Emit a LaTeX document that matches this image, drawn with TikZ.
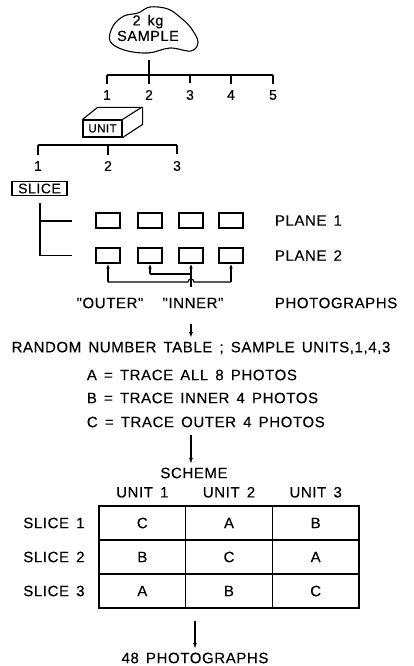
\documentclass[tikz,border=0pt]{standalone}
\usepackage{fontspec}
\newfontfamily\lettering{Liberation Sans}[LetterSpace=4,WordSpace=1.5,FakeBold=0.3]
\usetikzlibrary{arrows.meta,positioning,calc}

\begin{document}
\begin{tikzpicture}[
  x=1pt,y=-1pt,
  font=\lettering\fontsize{15}{17}\selectfont,
  line width=1.1pt,
  arrow/.style={-{Latex[length=6pt,width=4pt]},line width=1.1pt},
  uparrow/.style={-{Latex[length=5pt,width=3.5pt]},line width=1.1pt},
  num/.style={font=\lettering\fontsize{14}{16}\selectfont,inner sep=2pt},
  photo/.style={draw,minimum width=24pt,minimum height=15pt,inner sep=0pt},
  cell/.style={draw,minimum width=86.67pt,minimum height=34pt,inner sep=0pt},
  node distance=10pt
]
\useasboundingbox (0,0) rectangle (413,666);

% sample and its five units
\node[align=center,inner sep=0pt,font=\lettering\fontsize{14.5}{15.5}\selectfont] (sample) at (148,28) {2 kg\\SAMPLE};
\draw plot[smooth cycle,tension=0.6] coordinates {(110,41) (113,26) (124,16) (138,13) (150,7) (168,9) (181,18) (191,28) (198,42) (191,51) (170,48) (148,53) (124,50)};
\coordinate (drop) at (149,60);
\foreach \n/\x in {1/107,2/149,3/190,4/231,5/273} {
  \coordinate (t\n) at (\x,75);
  \node[num] (u\n) at (\x,95) {\n};
  \draw (t\n) -- ([yshift=4pt]u\n.north);
}
\draw (drop) -- (t2);
\draw (t1) -- (t5);

% unit block
\node[draw,font=\lettering\fontsize{11.5}{13}\selectfont,minimum width=39pt,minimum height=17pt,inner sep=0pt] (unit) at (102.5,128.5) {UNIT};
\draw (unit.north west) -- ++(15,-12) -- ++(44,0) -- (unit.north east);
\draw (unit.north east) ++(20,-12) -- ++(0,17) -- (unit.south east);

% three slices
\foreach \n/\x in {1/38,2/108,3/177} {
  \coordinate (s\n) at (\x,145);
  \node[num] (v\n) at (\x,166) {\n};
  \draw (s\n) -- ([yshift=4pt]v\n.north);
}
\draw (s1) -- (s3);
\node[draw,font=\lettering\fontsize{14}{15}\selectfont,minimum width=55pt,minimum height=14pt,inner sep=1pt] (slice) at (39.5,188.5) {SLICE};

% two planes of four photographs
\coordinate (stem) at (40,203);
\coordinate (br1) at (40,221);
\coordinate (br2) at (40,255.5);
\draw (stem) -- (br2) -- ++(32,0);
\draw (br1) -- ++(32,0);
\foreach \p/\y in {1/220.5,2/255.5} {
  \foreach \c/\x in {a/108,b/150,c/191,d/231}
    \node[photo] (p\p\c) at (\x,\y) {};
  \node[anchor=west] (plane\p) at (271,\y) {PLANE \p};
}

% outer and inner photographs
\coordinate (outer) at (0,282);
\coordinate (inner) at (0,274);
\draw[uparrow] (p2a.south |- outer) -- (p2a.south);
\draw[uparrow] (p2d.south |- outer) -- (p2d.south);
\draw (p2a.south |- outer) -- ($(p2c.south |- outer)+(-3,0)$) arc[start angle=180,end angle=360,radius=3] -- (p2d.south |- outer);
\draw[uparrow] (p2b.south |- inner) -- (p2b.south);
\draw[uparrow] (p2c.south |- inner) -- (p2c.south);
\draw (p2b.south |- inner) -- (p2c.south |- inner) -- ++(0,13);
\node (outerlbl) at (110,303) {"OUTER"};
\node (innerlbl) at (193,303) {"INNER"};
\node[anchor=west] (photos) at (271,303) {PHOTOGRAPHS};

% sampling rule
\node (rnd) at (201,348) {RANDOM NUMBER TABLE ; SAMPLE UNITS,1,4,3};
\draw[arrow,shorten <=12pt] (innerlbl.south -| p2c.south) -- (rnd.north -| p2c.south);
\node[anchor=west] (codeA) at (83,375) {A = TRACE ALL 8 PHOTOS};
\node[anchor=west] (codeB) at (83,398) {B = TRACE INNER 4 PHOTOS};
\node[anchor=west] (codeC) at (83,422) {C = TRACE OUTER 4 PHOTOS};
\node (scheme) at (194,473) {SCHEME};
\draw[arrow] ($(codeC.south -| p2c.south)+(0,4)$) -- (scheme.north -| p2c.south);

% scheme table
\foreach \r/\row in {1/{C,A,B},2/{B,C,A},3/{A,B,C}} {
  \foreach \l [count=\c] in \row
    \node[cell] (c\r\c) at ({99+86.67*(\c-0.5)},{506+34*(\r-0.5)}) {\l};
  \node[left=10pt of c\r1] (slice\r) {SLICE \r};
}
\foreach \c in {1,2,3}
  \node[above=4pt of c1\c] (unit\c) {UNIT \c};

\node (total) at (195,658) {48 PHOTOGRAPHS};
\draw[arrow] ($(c31.south -| total.north)+(0,12)$) -- (total.north);
\end{tikzpicture}
\end{document}
